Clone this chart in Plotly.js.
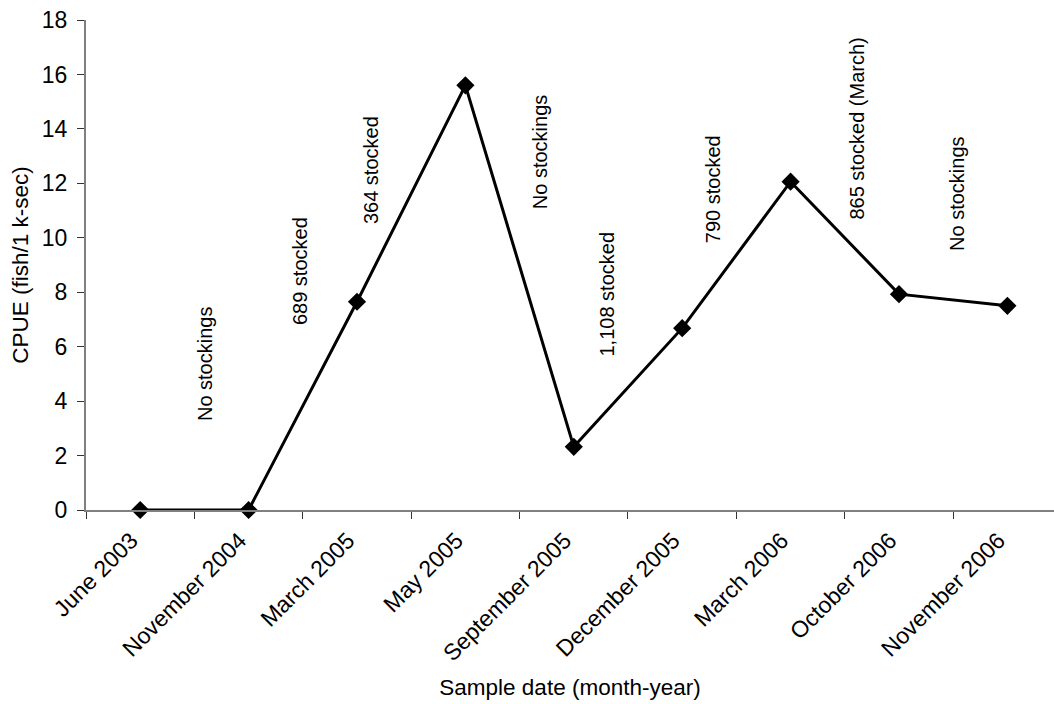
<!DOCTYPE html>
<html>
<head>
<meta charset="utf-8">
<script src="https://cdn.plot.ly/plotly-3.0.1.min.js"></script>
<style>html,body{margin:0;padding:0;background:#fff;}#chart{width:1054px;height:704px;}</style>
</head>
<body>
<div id="chart"></div>
<script>
// Data
const sampleDates = ["June 2003","November 2004","March 2005","May 2005","September 2005","December 2005","March 2006","October 2006","November 2006"];
const cpue = [0, 0, 7.65, 15.6, 2.32, 6.68, 12.06, 7.93, 7.5];

// Stocking notes (text) and where they sit on the chart
const noteTexts = ["No stockings","689 stocked","364 stocked","No stockings","1,108 stocked","790 stocked","865 stocked (March)","No stockings"];
const noteX = [0.6, 1.47, 2.13, 3.69, 4.31, 5.28, 6.61, 7.54];
const noteY = [5.37, 8.76, 12.49, 13.15, 7.93, 11.77, 14.0, 11.63];

const FONT = "Liberation Sans, Arial, sans-serif";
const annotations = noteTexts.map((t, i) => ({
  x: noteX[i], y: noteY[i], xref: "x", yref: "y",
  text: t, textangle: -90, showarrow: false,
  font: {family: FONT, size: 20, color: "#000"},
  xanchor: "center", yanchor: "middle"
}));

const trace = {
  x: sampleDates, y: cpue, type: "scatter", mode: "lines+markers",
  line: {color: "#000", width: 3},
  marker: {symbol: "diamond", size: 14, color: "#000"},
  cliponaxis: false, hoverinfo: "skip"
};

const layout = {
  width: 1054, height: 704,
  margin: {l: 86, r: 0, t: 20, b: 194},
  paper_bgcolor: "#fff", plot_bgcolor: "#fff",
  showlegend: false,
  font: {family: FONT, size: 22, color: "#000"},
  xaxis: {
    type: "category", range: [-0.5, 8.43],
    showgrid: false, zeroline: false,
    showline: true, linecolor: "#808080", linewidth: 2,
    ticks: "outside", ticklen: 7, tickcolor: "#333", tickwidth: 1,
    tickson: "boundaries", tickangle: -45,
    ticklabelshift: -9, ticklabelstandoff: 6,
    tickfont: {family: FONT, size: 23, color: "#000"},
    title: {text: "Sample date (month-year)", font: {family: FONT, size: 22.5, color: "#000"}, standoff: 14},
    automargin: false
  },
  yaxis: {
    range: [0, 18], dtick: 2, tick0: 0,
    showgrid: false, zeroline: false,
    showline: true, linecolor: "#808080", linewidth: 2,
    ticks: "outside", ticklen: 7, tickcolor: "#333", tickwidth: 1,
    ticklabelstandoff: 5,
    tickfont: {family: FONT, size: 23, color: "#000"},
    title: {text: "CPUE (fish/1 k-sec)", font: {family: FONT, size: 22.5, color: "#000"}, standoff: 7},
    automargin: false
  },
  annotations: annotations
};

Plotly.newPlot("chart", [trace], layout, {displayModeBar: false, staticPlot: true});
</script>
</body>
</html>
